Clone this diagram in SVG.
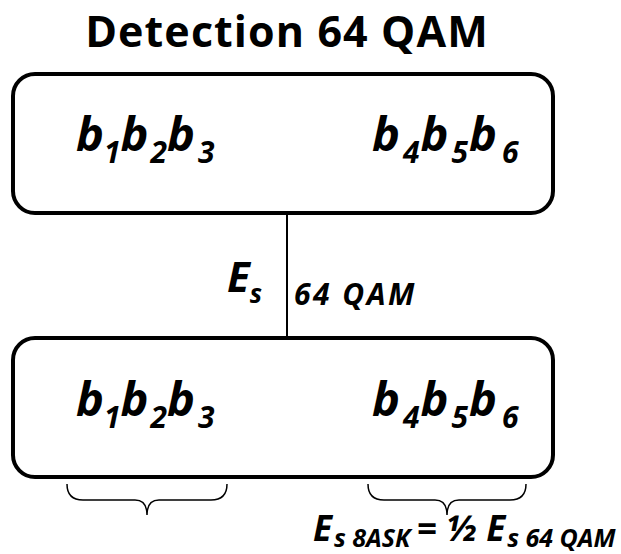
<svg xmlns="http://www.w3.org/2000/svg" width="621" height="554" viewBox="0 0 621 554">
<style>
.box{fill:#fff;stroke:#000;stroke-width:4}
.t{font-family:"Open Sans","Noto Sans",sans-serif;font-weight:bold;fill:#000}
.bi{font-family:"Open Sans","Noto Sans",sans-serif;font-weight:bold;font-style:italic;fill:#000}
.brace{fill:none;stroke:#000;stroke-width:1.5}
</style>
<rect width="621" height="554" fill="#fff"/>
<text class="t" x="287" y="47" font-size="43" letter-spacing="1.1" text-anchor="middle">Detection 64 QAM</text>
<g id="connectors">
<line x1="287" y1="214" x2="287" y2="338" stroke="#000" stroke-width="2"/>
<path class="brace" d="M67,484 Q67,500 83,500 L135,500 Q147,500 147,515 Q147,500 159,500 L211,500 Q227,500 227,484"/>
<path class="brace" d="M368,484 Q368,500 384,500 L435,500 Q447,500 447,515 Q447,500 459,500 L510,500 Q526,500 526,484"/>
</g>
<g id="top">
<rect class="box" x="13" y="74" width="540" height="139" rx="22"/>
<text class="bi" x="76" y="151" font-size="47">b<tspan font-size="30" dy="12">1</tspan><tspan dy="-12">b</tspan><tspan font-size="30" dy="12" dx="2">2</tspan><tspan dy="-12">b</tspan><tspan font-size="30" dy="12" dx="3">3</tspan></text>
<text class="bi" x="372" y="151" font-size="47">b<tspan font-size="30" dy="12" dx="3">4</tspan><tspan dy="-12" dx="1">b</tspan><tspan font-size="30" dy="12" dx="3">5</tspan><tspan dy="-12" dx="1">b</tspan><tspan font-size="30" dy="12" dx="5">6</tspan></text>
</g>
<g id="label">
<text class="bi" x="227" y="292" font-size="42">E<tspan font-size="26" dy="11">s</tspan></text>
<text class="bi" x="294" y="305" font-size="30" letter-spacing="2.5">64  QAM</text>
</g>
<g id="bottom">
<rect class="box" x="13" y="338" width="540" height="139" rx="22"/>
<text class="bi" x="76" y="416" font-size="47">b<tspan font-size="30" dy="12">1</tspan><tspan dy="-12">b</tspan><tspan font-size="30" dy="12" dx="2">2</tspan><tspan dy="-12">b</tspan><tspan font-size="30" dy="12" dx="3">3</tspan></text>
<text class="bi" x="372" y="416" font-size="47">b<tspan font-size="30" dy="12" dx="3">4</tspan><tspan dy="-12" dx="1">b</tspan><tspan font-size="30" dy="12" dx="3">5</tspan><tspan dy="-12" dx="1">b</tspan><tspan font-size="30" dy="12" dx="5">6</tspan></text>
</g>
<g id="formula">
<text class="bi" x="313" y="541" font-size="35">E<tspan font-size="25" dy="6" dx="2">s 8ASK </tspan><tspan dy="-6">= ½ E</tspan><tspan font-size="25" dy="6" dx="2">s 64  QAM</tspan></text>
</g>
</svg>
